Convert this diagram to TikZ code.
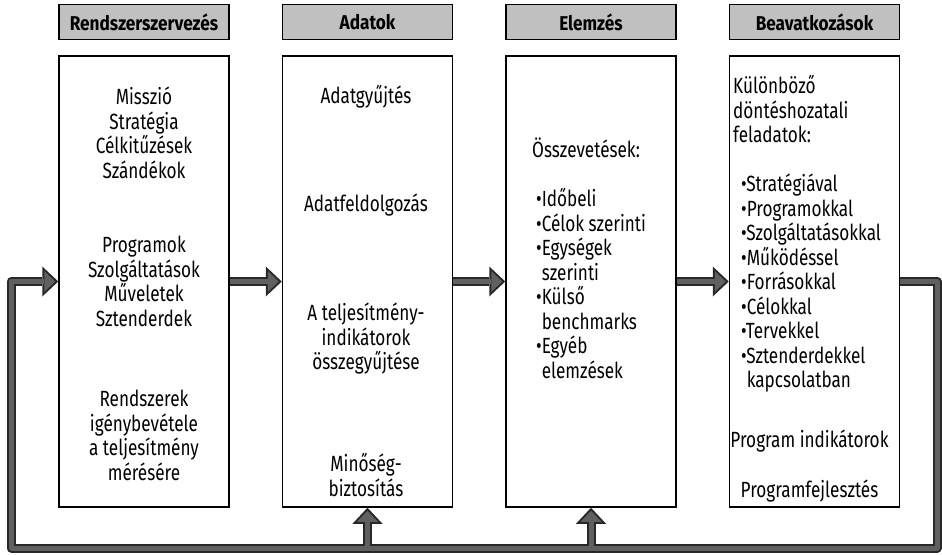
\documentclass[tikz,border=0pt]{standalone}
\usepackage{fontspec}
\setmainfont[FakeStretch=0.78]{Fira Sans}
\newfontfamily\headfont[FakeStretch=0.86]{Fira Sans}
\usepackage{xcolor}
\usepackage{tikz}
\usetikzlibrary{arrows.meta,positioning}

\definecolor{headgray}{RGB}{192,192,192}
\definecolor{flowgray}{RGB}{96,96,96}
\definecolor{flowedge}{RGB}{40,40,40}

\begin{document}
\begin{tikzpicture}[
  x=1pt, y=-1pt,
  font=\fontsize{22pt}{24.5pt}\selectfont,
  stage/.style={draw, line width=1.5pt, minimum width=170pt, minimum height=451pt, inner sep=0pt},
  head/.style={draw, line width=1.5pt, fill=headgray, minimum width=170pt, minimum height=35pt,
    inner sep=0pt, font=\headfont\bfseries\fontsize{20pt}{22pt}\selectfont},
  txt/.style={align=center, anchor=north, inner sep=0pt, execute at begin node=\strut},
  ltxt/.style={align=left, anchor=north west, inner sep=0pt, execute at begin node=\strut},
  flowout/.style={draw=flowedge, line width=9pt, line join=round,
    -{Triangle[width=30pt,length=16pt,line width=0pt]}},
  flowin/.style={draw=flowgray, line width=5pt, line join=round, shorten >=3pt,
    -{Triangle[width=21pt,length=11pt,line width=0pt]}}
]
  \useasboundingbox (0,0) rectangle (942,554);

  % Stages
  \node[stage] (sys) at (144,281.5) {};
  \node[stage, right=52pt of sys] (adat) {};
  \node[stage, right=52pt of adat] (elem) {};
  \node[stage, right=52pt of elem] (beav) {};

  % Headers
  \node[head, above=15pt of sys] (sysh) {Rendszerszervezés};
  \node[head, above=15pt of adat] (adath) {Adatok};
  \node[head, above=15pt of elem] (elemh) {Elemzés};
  \node[head, above=15pt of beav] (beavh) {Beavatkozások};

  % Rendszerszervezes
  \node[txt] (sys1) at (144,87) {Misszió\\Stratégia\\Célkitűzések\\Szándékok};
  \node[txt] (sys2) at (144,236) {Programok\\Szolgáltatások\\Műveletek\\Sztenderdek};
  \node[txt] (sys3) at (144,390) {Rendszerek\\igénybevétele\\a teljesítmény\\mérésére};

  % Adatok
  \node[txt] (adat1) at (366,85) {Adatgyűjtés};
  \node[txt] (adat2) at (366,194) {Adatfeldolgozás};
  \node[txt] (adat3) at (366,303) {A teljesítmény-\\indikátorok\\összegyűjtése};
  \node[txt] (adat4) at (366,453) {Minőség-\\biztosítás};

  % Elemzes
  \node[ltxt] (elem1) at (532,138) {Összevetések:};
  \node[ltxt] (elem2) at (536,188) {•Időbeli\\•Célok szerinti\\•Egységek\\\hphantom{•}szerinti\\•Külső\\\hphantom{•}benchmarks\\•Egyéb\\\hphantom{•}elemzések};

  % Beavatkozasok
  \node[ltxt] (beav1) at (733,75) {Különböző\\döntéshozatali\\feladatok:};
  \node[ltxt] (beav2) at (741,174) {•Stratégiával\\•Programokkal\\•Szolgáltatásokkal\\•Működéssel\\•Forrásokkal\\•Célokkal\\•Tervekkel\\•Sztenderdekkel\\\hphantom{•}kapcsolatban};
  \node[txt] (beav3) at (809.5,430) {Program indikátorok};
  \node[txt] (beav4) at (809.5,480) {Programfejlesztés};

  % Feedback loop corners
  \coordinate (ne) at (937,281.5);
  \coordinate (se) at (937,548);
  \coordinate (sw) at (11,548);
  \coordinate (nw) at (11,281.5);

  % Arrows
  \foreach \p in {flowout,flowin} {
    \draw[\p] (sys.east) -- (adat.west);
    \draw[\p] (adat.east) -- (elem.west);
    \draw[\p] (elem.east) -- (beav.west);
    \draw[\p] (beav.east) -- (ne) -- (se) -- (sw) -- (nw) -- (sys.west);
    \draw[\p] (adat.south |- se) -- (adat.south);
    \draw[\p] (elem.south |- se) -- (elem.south);
  }
\end{tikzpicture}
\end{document}
